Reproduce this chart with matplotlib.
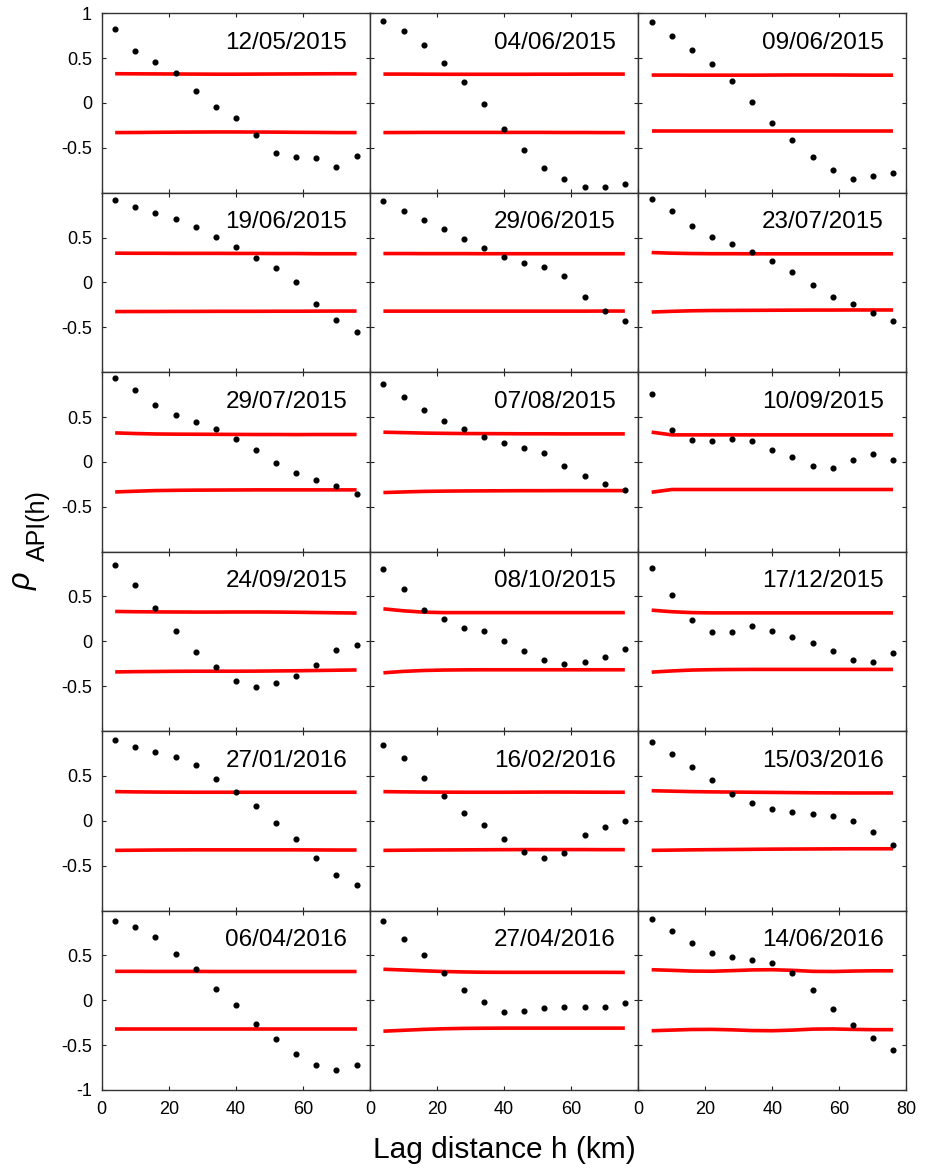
import matplotlib
matplotlib.use("Agg")
import matplotlib.pyplot as plt
import numpy as np

plt.rcParams['font.family'] = ['Liberation Sans', 'DejaVu Sans']
plt.rcParams['mathtext.fontset'] = 'custom'
plt.rcParams['mathtext.rm'] = 'Liberation Sans'
plt.rcParams['mathtext.it'] = 'Liberation Sans:italic'

lags = [4, 10, 16, 22, 28, 34, 40, 46, 52, 58, 64, 70, 76]

dates = ["12/05/2015", "04/06/2015", "09/06/2015",
         "19/06/2015", "29/06/2015", "23/07/2015",
         "29/07/2015", "07/08/2015", "10/09/2015",
         "24/09/2015", "08/10/2015", "17/12/2015",
         "27/01/2016", "16/02/2016", "15/03/2016",
         "06/04/2016", "27/04/2016", "14/06/2016"]

rho = [
    [0.826, 0.581, 0.452, 0.337, 0.130, -0.041, -0.163, -0.352, -0.556, -0.604, -0.615, -0.715, -0.596],
    [0.911, 0.807, 0.648, 0.448, 0.230, -0.015, -0.289, -0.519, -0.726, -0.848, -0.937, -0.941, -0.904],
    [0.900, 0.744, 0.589, 0.430, 0.241, 0.007, -0.222, -0.411, -0.600, -0.744, -0.844, -0.811, -0.785],
    [0.922, 0.844, 0.774, 0.704, 0.615, 0.511, 0.396, 0.274, 0.156, 0.000, -0.237, -0.415, -0.548],
    [0.904, 0.793, 0.693, 0.596, 0.489, 0.389, 0.285, 0.219, 0.167, 0.070, -0.163, -0.322, -0.430],
    [0.930, 0.793, 0.626, 0.511, 0.426, 0.344, 0.241, 0.111, -0.030, -0.163, -0.244, -0.337, -0.426],
    [0.932, 0.801, 0.639, 0.523, 0.440, 0.361, 0.259, 0.128, -0.011, -0.128, -0.199, -0.271, -0.361],
    [0.872, 0.726, 0.583, 0.451, 0.365, 0.282, 0.214, 0.154, 0.098, -0.045, -0.154, -0.244, -0.316],
    [0.759, 0.353, 0.248, 0.237, 0.252, 0.237, 0.132, 0.049, -0.041, -0.064, 0.026, 0.090, 0.019],
    [0.856, 0.630, 0.370, 0.111, -0.122, -0.289, -0.441, -0.511, -0.463, -0.385, -0.259, -0.100, -0.044],
    [0.802, 0.578, 0.354, 0.246, 0.146, 0.116, 0.004, -0.104, -0.213, -0.250, -0.235, -0.175, -0.082],
    [0.821, 0.515, 0.235, 0.108, 0.104, 0.168, 0.116, 0.052, -0.015, -0.108, -0.213, -0.228, -0.134],
    [0.900, 0.820, 0.770, 0.710, 0.620, 0.470, 0.320, 0.160, -0.020, -0.200, -0.420, -0.600, -0.720],
    [0.850, 0.700, 0.480, 0.280, 0.090, -0.050, -0.200, -0.350, -0.420, -0.360, -0.160, -0.070, 0.000],
    [0.880, 0.740, 0.600, 0.450, 0.300, 0.200, 0.130, 0.100, 0.080, 0.050, 0.000, -0.120, -0.270],
    [0.880, 0.820, 0.700, 0.520, 0.350, 0.130, -0.050, -0.260, -0.430, -0.600, -0.720, -0.780, -0.720],
    [0.880, 0.680, 0.500, 0.300, 0.110, -0.020, -0.130, -0.120, -0.090, -0.070, -0.080, -0.080, -0.030],
    [0.900, 0.770, 0.640, 0.530, 0.480, 0.450, 0.420, 0.300, 0.110, -0.100, -0.280, -0.420, -0.550],
]

upper = [
    [0.326, 0.325, 0.324, 0.323, 0.322, 0.321, 0.321, 0.322, 0.323, 0.324, 0.325, 0.326, 0.326],
    [0.322, 0.322, 0.321, 0.320, 0.320, 0.320, 0.320, 0.320, 0.321, 0.321, 0.322, 0.322, 0.322],
    [0.311, 0.311, 0.310, 0.310, 0.310, 0.310, 0.311, 0.312, 0.312, 0.312, 0.311, 0.310, 0.310],
    [0.326, 0.325, 0.325, 0.324, 0.324, 0.324, 0.323, 0.323, 0.322, 0.322, 0.320, 0.320, 0.320],
    [0.322, 0.322, 0.321, 0.321, 0.321, 0.320, 0.320, 0.320, 0.320, 0.320, 0.320, 0.320, 0.320],
    [0.333, 0.326, 0.322, 0.320, 0.320, 0.319, 0.319, 0.319, 0.319, 0.319, 0.319, 0.319, 0.319],
    [0.323, 0.316, 0.311, 0.309, 0.308, 0.307, 0.306, 0.305, 0.305, 0.304, 0.305, 0.305, 0.305],
    [0.331, 0.326, 0.321, 0.318, 0.316, 0.315, 0.314, 0.313, 0.313, 0.312, 0.312, 0.312, 0.312],
    [0.331, 0.301, 0.301, 0.301, 0.301, 0.301, 0.301, 0.301, 0.301, 0.301, 0.301, 0.301, 0.301],
    [0.333, 0.330, 0.328, 0.327, 0.326, 0.326, 0.327, 0.327, 0.326, 0.324, 0.321, 0.318, 0.315],
    [0.362, 0.340, 0.325, 0.320, 0.320, 0.320, 0.320, 0.320, 0.320, 0.320, 0.320, 0.320, 0.320],
    [0.347, 0.330, 0.320, 0.317, 0.317, 0.317, 0.317, 0.317, 0.317, 0.317, 0.317, 0.317, 0.317],
    [0.325, 0.322, 0.320, 0.319, 0.318, 0.318, 0.318, 0.318, 0.318, 0.318, 0.318, 0.318, 0.318],
    [0.325, 0.322, 0.320, 0.319, 0.318, 0.318, 0.318, 0.319, 0.320, 0.320, 0.319, 0.318, 0.318],
    [0.335, 0.330, 0.325, 0.322, 0.320, 0.318, 0.316, 0.314, 0.312, 0.311, 0.310, 0.310, 0.310],
    [0.322, 0.322, 0.321, 0.321, 0.321, 0.320, 0.320, 0.320, 0.320, 0.320, 0.320, 0.320, 0.320],
    [0.345, 0.337, 0.328, 0.320, 0.315, 0.312, 0.311, 0.311, 0.311, 0.311, 0.311, 0.311, 0.310],
    [0.340, 0.333, 0.325, 0.323, 0.330, 0.338, 0.340, 0.333, 0.322, 0.320, 0.325, 0.328, 0.328],
]

lower = [
    [-0.330, -0.329, -0.327, -0.325, -0.324, -0.323, -0.323, -0.324, -0.325, -0.327, -0.328, -0.330, -0.330],
    [-0.330, -0.329, -0.328, -0.328, -0.328, -0.328, -0.328, -0.328, -0.328, -0.329, -0.329, -0.330, -0.330],
    [-0.315, -0.315, -0.315, -0.315, -0.315, -0.315, -0.315, -0.315, -0.315, -0.315, -0.315, -0.315, -0.315],
    [-0.325, -0.324, -0.324, -0.323, -0.323, -0.322, -0.322, -0.322, -0.321, -0.321, -0.320, -0.319, -0.319],
    [-0.320, -0.320, -0.320, -0.320, -0.320, -0.320, -0.320, -0.320, -0.320, -0.320, -0.320, -0.319, -0.319],
    [-0.330, -0.322, -0.316, -0.313, -0.312, -0.311, -0.310, -0.309, -0.308, -0.308, -0.307, -0.307, -0.307],
    [-0.335, -0.327, -0.320, -0.317, -0.315, -0.314, -0.313, -0.312, -0.312, -0.312, -0.312, -0.312, -0.312],
    [-0.342, -0.335, -0.329, -0.326, -0.324, -0.323, -0.322, -0.321, -0.321, -0.320, -0.320, -0.320, -0.320],
    [-0.338, -0.308, -0.308, -0.308, -0.308, -0.308, -0.308, -0.308, -0.308, -0.308, -0.308, -0.308, -0.308],
    [-0.341, -0.338, -0.336, -0.334, -0.333, -0.333, -0.333, -0.332, -0.330, -0.328, -0.325, -0.322, -0.319],
    [-0.351, -0.335, -0.325, -0.320, -0.318, -0.317, -0.317, -0.317, -0.317, -0.317, -0.317, -0.317, -0.317],
    [-0.343, -0.330, -0.320, -0.316, -0.314, -0.313, -0.313, -0.313, -0.313, -0.313, -0.313, -0.313, -0.313],
    [-0.330, -0.328, -0.326, -0.325, -0.324, -0.324, -0.324, -0.324, -0.324, -0.324, -0.325, -0.326, -0.326],
    [-0.330, -0.328, -0.326, -0.325, -0.324, -0.323, -0.322, -0.321, -0.321, -0.321, -0.321, -0.322, -0.322],
    [-0.330, -0.327, -0.324, -0.322, -0.320, -0.318, -0.316, -0.315, -0.314, -0.313, -0.312, -0.312, -0.312],
    [-0.322, -0.322, -0.322, -0.322, -0.322, -0.322, -0.322, -0.322, -0.322, -0.322, -0.322, -0.322, -0.322],
    [-0.345, -0.335, -0.325, -0.318, -0.314, -0.312, -0.311, -0.311, -0.311, -0.311, -0.311, -0.311, -0.311],
    [-0.340, -0.333, -0.326, -0.325, -0.330, -0.338, -0.340, -0.333, -0.322, -0.320, -0.325, -0.328, -0.328],
]

nrows, ncols = 6, 3
fig = plt.figure(figsize=(9.25, 11.73), dpi=100)
left, right = 0.110, 0.980
top, bottom = 0.9887, 0.0708
gs = fig.add_gridspec(nrows, ncols, left=left, right=right, top=top, bottom=bottom,
                      hspace=0, wspace=0)

for i in range(nrows * ncols):
    r, c = divmod(i, ncols)
    ax = fig.add_subplot(gs[r, c])
    ax.plot(lags, upper[i], color='#ff0000', lw=2.6, solid_capstyle='butt')
    ax.plot(lags, lower[i], color='#ff0000', lw=2.6, solid_capstyle='butt')
    ax.plot(lags, rho[i], 'o', color='black', ms=3.4, mec='black')
    ax.set_xlim(0, 80)
    ax.set_ylim(-1, 1)
    ax.text(0.915, 0.835, dates[i], transform=ax.transAxes, ha='right', va='center',
            fontsize=17.5)
    yt = [-0.5, 0, 0.5]
    if r == 0:
        yt = yt + [1]
    if r == nrows - 1:
        yt = [-1] + yt
    ax.set_yticks(yt)
    ax.set_xticks([0, 20, 40, 60, 80])
    ax.tick_params(direction='in', length=3, width=0.8, top=True, right=True,
                   labelsize=13, colors='#222222', labelcolor='black')
    ax.tick_params(axis='x', pad=8)
    ax.tick_params(axis='y', pad=7)
    if c == 0:
        ax.set_yticklabels(['1' if v == 1 else '-1' if v == -1 else ('0' if v == 0 else f'{v:g}') for v in yt])
    else:
        ax.set_yticklabels([])
    if r == nrows - 1:
        if c == ncols - 1:
            ax.set_xticklabels(['0', '20', '40', '60', '80'])
        else:
            ax.set_xticklabels(['0', '20', '40', '60', ''])
    else:
        ax.set_xticklabels([])
    for s in ax.spines.values():
        s.set_linewidth(1.0)
        s.set_color('#333333')

fig.text(0.5 * (left + right), 0.020, 'Lag distance h (km)', ha='center', va='center',
         fontsize=21.5)
# y label: rho with a large subscript "API(h)"
fig.text(24 / 925, 1 - 580 / 1173, r'$\rho$', rotation=90, ha='center', va='center',
         fontsize=22)
fig.text(38 / 925, 1 - 526 / 1173, 'API(h)', rotation=90, ha='center', va='center',
         fontsize=18)

fig.savefig('out.png', dpi=100)
